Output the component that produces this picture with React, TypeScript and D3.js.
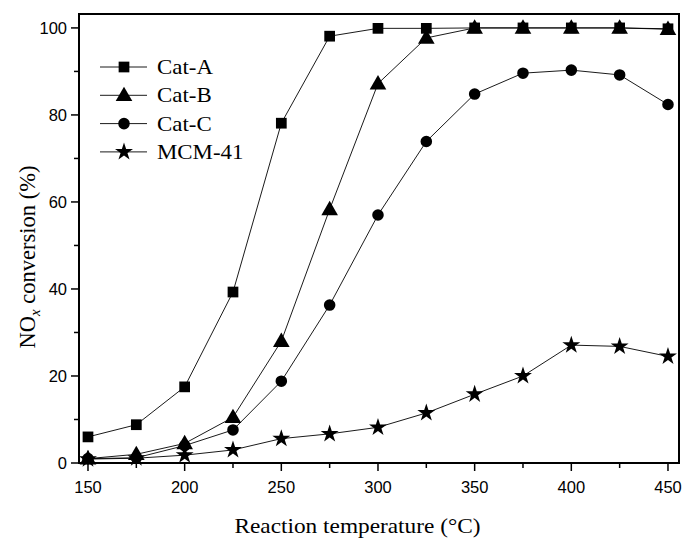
import React from "react";
import * as d3 from "d3";

const temps = [150, 175, 200, 225, 250, 275, 300, 325, 350, 375, 400, 425, 450];
const catA = [6, 8.8, 17.5, 39.3, 78.1, 98.1, 99.9, 99.9, 100, 100, 100, 100, 99.8];
const catB = [1, 2, 4.5, 10.5, 28, 58.3, 87.2, 97.7, 100, 100, 100, 100, 99.7];
const catC = [1, 1.2, 4, 7.6, 18.8, 36.3, 57, 73.9, 84.8, 89.6, 90.3, 89.2, 82.4];
const mcm41 = [0.9, 1.1, 1.8, 3, 5.6, 6.7, 8.2, 11.5, 15.8, 20, 27.1, 26.8, 24.5];
const seriesNames = ["Cat-A", "Cat-B", "Cat-C", "MCM-41"];
const seriesValues = [catA, catB, catC, mcm41];
const xTicks = [150, 200, 250, 300, 350, 400, 450];
const xMinor = [175, 225, 275, 325, 375, 425];
const yTicks = [0, 20, 40, 60, 80, 100];
const yMinor = [10, 30, 50, 70, 90];

const W = 686, H = 539;
const L = 79, R = 679, T = 14, B = 463;

const x = d3.scaleLinear().domain([145.35, 455.7]).range([L, R]);
const y = d3.scaleLinear().domain([0, 103.2]).range([B, T]);

const symbols = [d3.symbolSquare, d3.symbolTriangle, d3.symbolCircle, d3.symbolStar];
const sizes = [115, 120, 105, 100];

function Marker({ i, cx, cy }: { i: number; cx: number; cy: number }) {
  const p = d3.symbol().type(symbols[i]).size(sizes[i])()!;
  const dy = i === 1 ? 1 : 0;
  return <path d={p} transform={`translate(${cx},${cy + dy})`} fill="#000" />;
}

export default function App() {
  const line = d3
    .line<number>()
    .x((_, i) => x(temps[i]))
    .y((d) => y(d));
  const sans = "'Liberation Sans', Arial, sans-serif";
  const serif = "'Liberation Serif', 'Times New Roman', serif";
  return (
    <svg width={W} height={H} style={{ position: "absolute", left: 0, top: 0 }}>
      <rect x={0} y={0} width={W} height={H} fill="#fff" />
      {/* series lines */}
      {seriesValues.map((vals, si) => (
        <path key={si} d={line(vals)!} fill="none" stroke="#000" strokeWidth={0.9} />
      ))}
      {seriesValues.map((vals, si) =>
        vals.map((v, i) => <Marker key={`${si}-${i}`} i={si} cx={x(temps[i])} cy={y(v)} />)
      )}
      {/* frame */}
      <rect x={L} y={T} width={R - L} height={B - T} fill="none" stroke="#000" strokeWidth={2} />
      {/* x ticks */}
      {xTicks.map((t) => (
        <g key={t}>
          <line x1={x(t)} x2={x(t)} y1={B} y2={B + 8} stroke="#000" strokeWidth={1.5} />
          <text x={x(t)} y={B + 30} textAnchor="middle" fontFamily={sans} fontSize={16.5}>
            {t}
          </text>
        </g>
      ))}
      {xMinor.map((t) => (
        <line key={t} x1={x(t)} x2={x(t)} y1={B} y2={B + 5} stroke="#000" strokeWidth={1.5} />
      ))}
      {/* y ticks */}
      {yTicks.map((t) => (
        <g key={t}>
          <line x1={L - 8} x2={L} y1={y(t)} y2={y(t)} stroke="#000" strokeWidth={1.5} />
          <text x={L - 12} y={y(t) + 6} textAnchor="end" fontFamily={sans} fontSize={16.5}>
            {t}
          </text>
        </g>
      ))}
      {yMinor.map((t) => (
        <line key={t} x1={L - 5} x2={L} y1={y(t)} y2={y(t)} stroke="#000" strokeWidth={1.5} />
      ))}
      {/* legend */}
      {seriesNames.map((n, i) => {
        const ly = 67 + i * 28.3;
        return (
          <g key={n}>
            <line x1={100} x2={147} y1={ly} y2={ly} stroke="#000" strokeWidth={0.9} />
            <Marker i={i} cx={124} cy={ly} />
            <text
              transform={`translate(157,${ly + 7}) scale(1.09,1)`}
              fontFamily={serif}
              fontSize={21}
            >
              {n}
            </text>
          </g>
        );
      })}
      {/* axis titles */}
      <text
        transform="translate(357.5,533) scale(1.11,1)"
        textAnchor="middle"
        fontFamily={serif}
        fontSize={21}
      >
        Reaction temperature (°C)
      </text>
      <text
        transform={`translate(35,257) rotate(-90)`}
        textAnchor="middle"
        fontFamily={serif}
        fontSize={22.5}
      >
        NO
        <tspan fontStyle="italic" fontSize={15} dy={5}>
          x
        </tspan>
        <tspan dy={-5}> conversion (%)</tspan>
      </text>
    </svg>
  );
}
